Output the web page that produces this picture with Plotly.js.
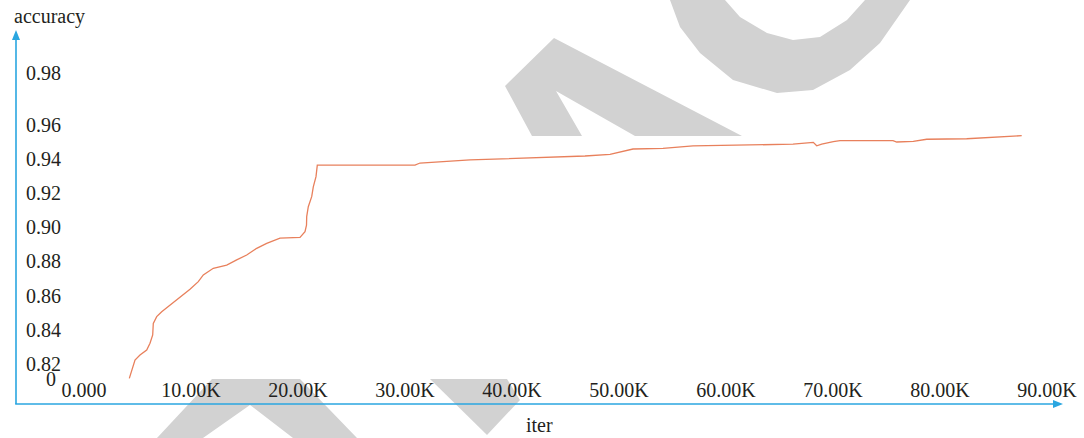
<!DOCTYPE html>
<html>
<head>
<meta charset="utf-8">
<script src="https://cdn.plot.ly/plotly-3.0.1.min.js"></script>
<style>
  html, body { margin: 0; padding: 0; background: #ffffff; }
  #chart { width: 1084px; height: 438px; }
</style>
</head>
<body>
<div id="chart"></div>
<script>
// Training curve: accuracy against iteration count
const iterations = [
  4234, 4458, 4766, 5234, 5860, 6168, 6421, 6477, 6794, 7262,
  8037, 8972, 9907, 10682, 11150, 12084, 13336, 14271, 15206, 16140,
  17075, 18318, 20187, 20654, 20794, 20813, 20963, 21280, 21430, 21682,
  21804, 30935, 31402, 36075, 43551, 46822, 49159, 50252, 51308, 54112,
  56916, 66262, 67542, 68159, 68477, 68944, 70028, 70654, 75607, 75953,
  77505, 78757, 82495, 86234, 87636
];
const accuracy = [
  0.8116, 0.8165, 0.8223, 0.8253, 0.8282, 0.8321, 0.8370, 0.8438, 0.8477, 0.8506,
  0.8545, 0.8594, 0.8637, 0.8682, 0.8721, 0.8760, 0.8779, 0.8809, 0.8838, 0.8877,
  0.8906, 0.8936, 0.8941, 0.8974, 0.9013, 0.9062, 0.9120, 0.9179, 0.9237, 0.9296,
  0.9364, 0.9364, 0.9376, 0.9394, 0.9407, 0.9417, 0.9427, 0.9442, 0.9458, 0.9462,
  0.9476, 0.9486, 0.9495, 0.9497, 0.9477, 0.9486, 0.9501, 0.9507, 0.9507, 0.9499,
  0.9503, 0.9515, 0.9518, 0.9530, 0.9536
];

// Axis ticks
const xTickValues = [0, 10000, 20000, 30000, 40000, 50000, 60000, 70000, 80000, 90000];
const xTickLabels = ['0.000', '10.00K', '20.00K', '30.00K', '40.00K', '50.00K', '60.00K', '70.00K', '80.00K', '90.00K'];
const yTickValues = [0.82, 0.84, 0.86, 0.88, 0.90, 0.92, 0.94, 0.96, 0.99];
const yTickLabels = ['0.82', '0.84', '0.86', '0.88', '0.90', '0.92', '0.94', '0.96', '0.98'];
// origin mark below the broken accuracy axis
const yBreakValue = 0.8112;
const yBreakLabel = '0';

const xTitle = 'iter';
const yTitle = 'accuracy';

// Page geometry
const W = 1084, H = 438;
const M = { l: 16, r: 4, t: 31, b: 34 };
const PW = W - M.l - M.r, PH = H - M.t - M.b;
const px = v => (v - M.l) / PW;          // pixel column -> paper x
const py = v => (H - M.b - v) / PH;      // pixel row -> paper y

// iteration scale: pixel column of 0 and pixels per iteration
const X0 = 84, XS = 0.0107;
// accuracy scale: pixel row of 0.82 and pixels per unit
const Y82 = 364, YS = 1709;

const AXIS_BLUE = '#2aa6e0';
const INK = '#231f20';
const FONT = 'Liberation Serif, Times New Roman, serif';
const MARK = '#d2d2d2';

function poly(points) {
  return 'M ' + points.map(p => px(p[0]).toFixed(5) + ',' + py(p[1]).toFixed(5)).join(' L ') + ' Z';
}

// Faint background lettering
const marks = [
  // chevron, upper middle
  [[554, 38], [742, 136], [635, 136], [556, 91], [582, 136], [532, 136], [505, 86]],
  // arc, upper right
  [[670, 0], [680, 27], [700, 53], [733, 80], [777, 93], [813, 90], [850, 70], [880, 43], [910, 0],
   [865, 0], [847, 20], [820, 37], [793, 40], [767, 33], [740, 17], [725, 0]],
  // chevron, lower left
  [[157, 438], [212, 379], [300, 379], [357, 438], [293, 438], [250, 405], [203, 438]],
  // wedge, lower middle
  [[430, 379], [507, 379], [520, 400], [487, 435]]
];

const shapes = marks.map(m => ({
  type: 'path', xref: 'paper', yref: 'paper', layer: 'below',
  path: poly(m), fillcolor: MARK, line: { width: 0 }
}));

// axis lines with arrow heads
shapes.push({
  type: 'line', xref: 'paper', yref: 'paper', layer: 'above',
  x0: px(16), x1: px(16), y0: py(404), y1: py(38),
  line: { color: AXIS_BLUE, width: 1.6 }
});
shapes.push({
  type: 'path', xref: 'paper', yref: 'paper', layer: 'above',
  path: poly([[16, 30], [12, 40], [20, 40]]),
  fillcolor: AXIS_BLUE, line: { width: 0 }
});
shapes.push({
  type: 'line', xref: 'paper', yref: 'paper', layer: 'above',
  x0: px(15.2), x1: px(1056), y0: py(404), y1: py(404),
  line: { color: AXIS_BLUE, width: 1.6 }
});
shapes.push({
  type: 'path', xref: 'paper', yref: 'paper', layer: 'above',
  path: poly([[1063, 404], [1053, 400], [1053, 408]]),
  fillcolor: AXIS_BLUE, line: { width: 0 }
});

const trace = {
  type: 'scatter', mode: 'lines',
  x: iterations, y: accuracy,
  line: { color: '#e8805c', width: 1.3 },
  hoverinfo: 'skip', showlegend: false
};

const layout = {
  width: W, height: H,
  margin: M,
  paper_bgcolor: '#ffffff', plot_bgcolor: 'rgba(0,0,0,0)',
  font: { family: FONT, size: 20, color: INK },
  showlegend: false,
  xaxis: {
    range: [(M.l - X0) / XS, (W - M.r - X0) / XS],
    tickmode: 'array', tickvals: xTickValues, ticktext: xTickLabels,
    ticklabelposition: 'inside', ticks: '',
    showgrid: false, zeroline: false, showline: false,
    tickfont: { family: FONT, size: 20, color: INK },
    fixedrange: true
  },
  yaxis: {
    range: [0.82 - (H - M.b - Y82) / YS, 0.82 + (Y82 - M.t) / YS],
    anchor: 'free', position: px(61),
    tickmode: 'array', tickvals: yTickValues, ticktext: yTickLabels,
    ticks: '', showgrid: false, zeroline: false, showline: false,
    tickfont: { family: FONT, size: 20, color: INK },
    fixedrange: true
  },
  shapes: shapes,
  annotations: [
    {
      text: yBreakLabel, xref: 'paper', yref: 'y',
      x: px(57.5), y: yBreakValue, xanchor: 'right', yanchor: 'middle',
      showarrow: false, font: { family: FONT, size: 20, color: INK }
    },
    {
      text: yTitle, xref: 'paper', yref: 'paper',
      x: px(12), y: py(17), xanchor: 'left', yanchor: 'middle',
      showarrow: false, font: { family: FONT, size: 20, color: INK }
    },
    {
      text: xTitle, xref: 'paper', yref: 'paper',
      x: px(539), y: py(425), xanchor: 'center', yanchor: 'middle',
      showarrow: false, font: { family: FONT, size: 20, color: INK }
    }
  ]
};

Plotly.newPlot('chart', [trace], layout, { staticPlot: true, displayModeBar: false });
</script>
</body>
</html>
